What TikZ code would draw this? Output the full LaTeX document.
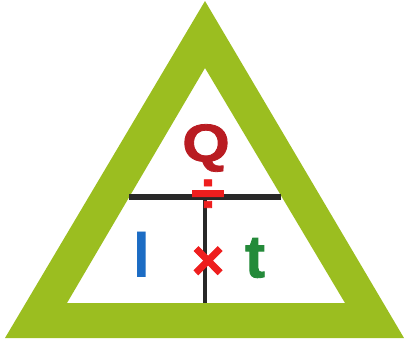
\documentclass[tikz,border=0pt]{standalone}
\usepackage{fontspec}
\setmainfont{Liberation Sans}
\newfontfamily\heavyfont[FakeBold=1.5]{Liberation Sans Bold}
\usetikzlibrary{calc}
\definecolor{trianglegreen}{RGB}{155,190,32}
\definecolor{qred}{RGB}{185,28,34}
\definecolor{iblue}{RGB}{28,108,196}
\definecolor{tgreen}{RGB}{36,138,58}
\definecolor{oped}{RGB}{238,30,30}
\definecolor{barline}{RGB}{40,40,40}
\tikzset{
  letter/.style={inner sep=0pt, font=\bfseries\fontsize{60}{60}\selectfont},
  opsign/.style={inner sep=0pt, text=oped, font=\heavyfont\fontsize{56}{56}\selectfont},
  divider/.style={draw=barline, line width=6pt},
  stem/.style={draw=barline, line width=4.5pt}
}
\begin{document}
\begin{tikzpicture}[x=1pt, y=-1pt]
  \useasboundingbox (0,0) rectangle (405,349);
  % green frame
  \fill[trianglegreen, even odd rule]
    (205,1) -- (5,338) -- (404,338) -- cycle
    (205,68) -- (67,303) -- (345,303) -- cycle;

  \coordinate (lineL) at (129,197);
  \coordinate (lineR) at (281,197);
  \coordinate (mid) at (205,197);
  \coordinate (base) at (205,303);

  \draw[divider] (lineL) -- (lineR);
  \draw[stem] (mid) -- (base);

  \node[letter, text=qred, xscale=1.15, font=\heavyfont\fontsize{53}{53}\selectfont] (Q) at (206,148) {Q};
  \node[letter, text=iblue, yscale=1.1] (I) at (142,255) {I};
  \node[letter, text=tgreen, font=\heavyfont\fontsize{60}{60}\selectfont] (t) at (255,258) {t};

  \node[opsign, xscale=1.1] (div) at (208,196) {÷};
  \node[opsign] (mul) at (208,263) {×};
\end{tikzpicture}
\end{document}
